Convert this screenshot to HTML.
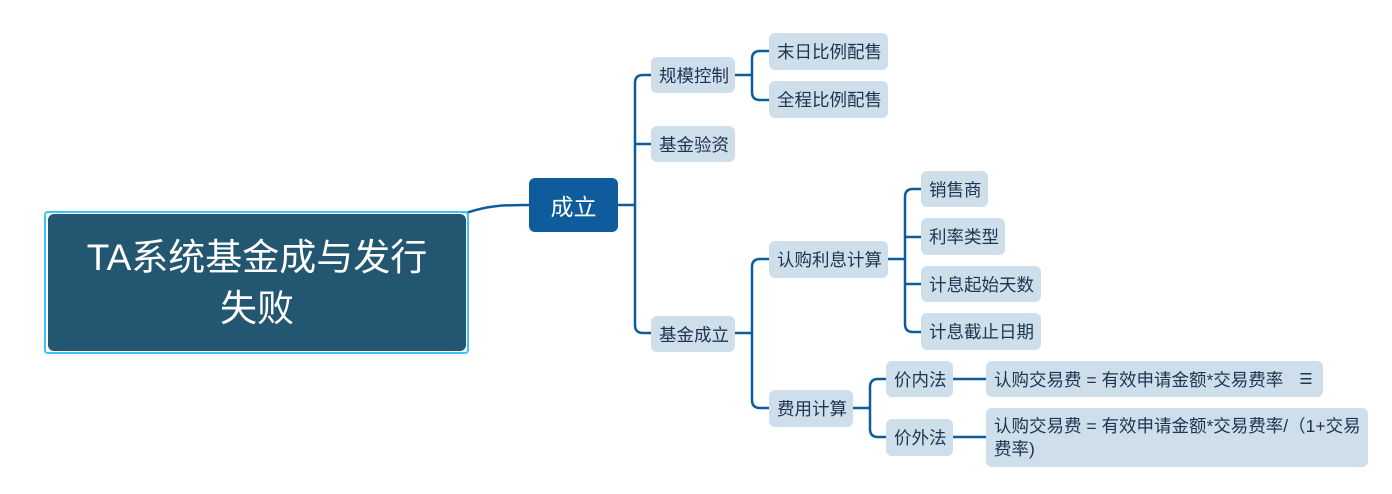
<!DOCTYPE html>
<html><head><meta charset="utf-8"><style>
body{margin:0;width:1392px;height:494px;background:#fff;position:relative;overflow:hidden;font-family:"Liberation Sans","Noto Sans CJK SC",sans-serif}
.b{position:absolute;background:#cfdeeb;color:#1c3550;font-size:17.5px;border-radius:6px;display:flex;align-items:center;padding-left:8px;box-sizing:border-box;white-space:nowrap}
</style></head><body>
<svg width="1392" height="494" style="position:absolute;left:0;top:0" fill="none" stroke="#0e5c9b" stroke-width="2.5">
<path d="M466,213 C490,205 505,205 529,205"/>
<path d="M618,205 H635"/>
<path d="M651,75 H643 Q635,75 635,83 V325 Q635,333 643,333 H651"/>
<path d="M635,144 Q635,144 643,144 H651"/>
<path d="M735,75 H752"/>
<path d="M769,51 H760 Q752,51 752,59 V92 Q752,100 760,100 H769"/>
<path d="M735,333 H752"/>
<path d="M769,259 H760 Q752,259 752,267 V400 Q752,408 760,408 H769"/>
<path d="M888,259 H905"/>
<path d="M921,189 H913 Q905,189 905,197 V324 Q905,332 913,332 H921"/>
<path d="M905,237 Q905,237 913,237 H921"/>
<path d="M905,284 Q905,284 913,284 H921"/>
<path d="M853,408 H870"/>
<path d="M886,379 H878 Q870,379 870,387 V429 Q870,437 878,437 H886"/>
<path d="M953,379 H986"/>
<path d="M953,437 H986"/>
</svg>
<div style="position:absolute;left:44px;top:211px;width:425px;height:143px;border:2px solid #3ec3f5;border-radius:4px;box-sizing:border-box"></div>
<div style="position:absolute;left:48px;top:214px;width:418px;height:137px;background:#235671;border-radius:6px;color:#fff;font-size:37px;line-height:51px;text-align:center;display:flex;align-items:center;justify-content:center"><div>TA系统基金成与发行<br>失败</div></div>
<div style="position:absolute;left:529px;top:178px;width:89px;height:54px;background:#0e5c9b;border-radius:6px;color:#fff;font-size:23px;display:flex;align-items:center;justify-content:center">成立</div>
<div class="b" style="left:651px;top:57px;width:84px;height:36px">规模控制</div>
<div class="b" style="left:651px;top:126px;width:84px;height:36px">基金验资</div>
<div class="b" style="left:651px;top:316px;width:84px;height:36px">基金成立</div>
<div class="b" style="left:769px;top:33px;width:119px;height:37px">末日比例配售</div>
<div class="b" style="left:769px;top:81px;width:119px;height:37px">全程比例配售</div>
<div class="b" style="left:769px;top:241px;width:119px;height:37px">认购利息计算</div>
<div class="b" style="left:769px;top:390px;width:84px;height:37px">费用计算</div>
<div class="b" style="left:921px;top:171px;width:67px;height:36px">销售商</div>
<div class="b" style="left:921px;top:218px;width:84px;height:37px">利率类型</div>
<div class="b" style="left:921px;top:266px;width:120px;height:36px">计息起始天数</div>
<div class="b" style="left:921px;top:313px;width:120px;height:37px">计息截止日期</div>
<div class="b" style="left:886px;top:361px;width:67px;height:36px">价内法</div>
<div class="b" style="left:886px;top:419px;width:67px;height:37px">价外法</div>
<div class="b" style="left:986px;top:361px;width:337px;height:36px">认购交易费 = 有效申请金额*交易费率<span style="margin-left:16px;font-size:15px">☰</span></div>
<div class="b" style="left:986px;top:408px;width:382px;height:59px;white-space:normal;line-height:23px;padding-right:4px">认购交易费 = 有效申请金额*交易费率/（1+交易<br>费率)</div>
</body></html>
